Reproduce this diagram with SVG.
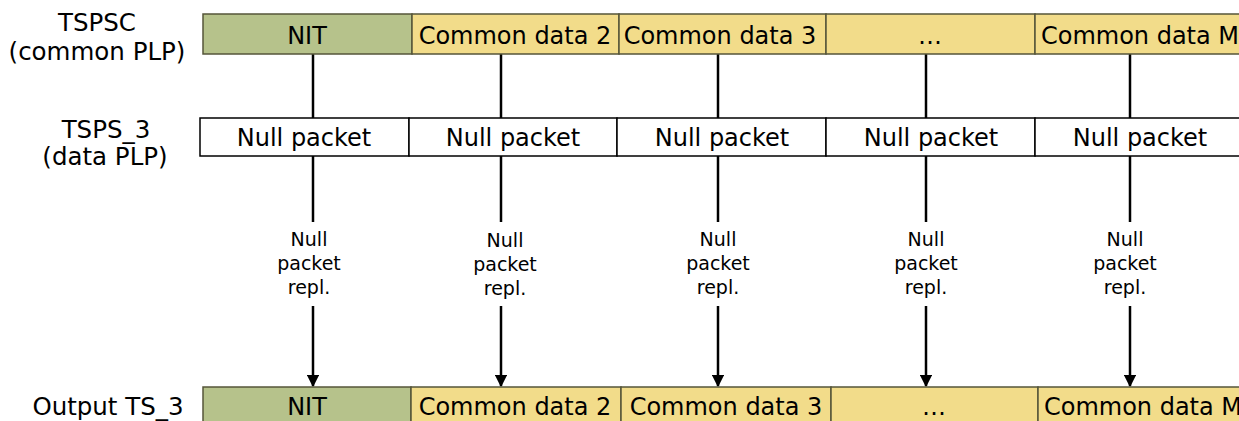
<svg xmlns="http://www.w3.org/2000/svg" width="1239" height="421" viewBox="0 0 1239 421">
<defs>
<style>
text{font-family:"DejaVu Sans","Liberation Sans",sans-serif;fill:#000;text-anchor:middle}
.big{font-size:24px}
.lab{font-size:24.5px}
.sm{font-size:19px}
.g{fill:#B6C28B;stroke:#55553a;stroke-width:1.5}
.y{fill:#F2DC8A;stroke:#55553a;stroke-width:1.5}
.w{fill:#fff;stroke:#000;stroke-width:1.5}
.ln{stroke:#000;stroke-width:2.5;fill:none}
</style>
<marker id="ah" viewBox="0 0 10 10" refX="9" refY="5" markerWidth="5" markerHeight="5" markerUnits="strokeWidth" orient="auto">
<path d="M0,0 L10,5 L0,10 z" fill="#000"/>
</marker>
</defs>
<rect width="1239" height="421" fill="#fff"/>
<g id="labels">
<text class="lab" x="97" y="31">TSPSC</text>
<text class="lab" x="97" y="60">(common PLP)</text>
<text class="lab" x="106" y="138">TSPS_3</text>
<text class="lab" x="105" y="165">(data PLP)</text>
<text class="lab" x="108" y="415">Output TS_3</text>
</g>
<g id="connectors">
<line class="ln" x1="313" y1="54" x2="313" y2="118"/>
<line class="ln" x1="501" y1="54" x2="501" y2="118"/>
<line class="ln" x1="718" y1="54" x2="718" y2="118"/>
<line class="ln" x1="926" y1="54" x2="926" y2="118"/>
<line class="ln" x1="1130" y1="54" x2="1130" y2="118"/>
<line class="ln" x1="313" y1="156" x2="313" y2="222"/>
<line class="ln" x1="501" y1="156" x2="501" y2="222"/>
<line class="ln" x1="718" y1="156" x2="718" y2="222"/>
<line class="ln" x1="926" y1="156" x2="926" y2="222"/>
<line class="ln" x1="1130" y1="156" x2="1130" y2="222"/>
<line class="ln" x1="313" y1="306" x2="313" y2="386" marker-end="url(#ah)"/>
<line class="ln" x1="501" y1="306" x2="501" y2="386" marker-end="url(#ah)"/>
<line class="ln" x1="718" y1="306" x2="718" y2="386" marker-end="url(#ah)"/>
<line class="ln" x1="926" y1="306" x2="926" y2="386" marker-end="url(#ah)"/>
<line class="ln" x1="1130" y1="306" x2="1130" y2="386" marker-end="url(#ah)"/>
</g>
<g id="repl-labels">
<g id="repl1"><text class="sm" x="309" y="246">Null</text><text class="sm" x="309" y="270">packet</text><text class="sm" x="309" y="294">repl.</text></g>
<g id="repl2"><text class="sm" x="505" y="247">Null</text><text class="sm" x="505" y="271">packet</text><text class="sm" x="505" y="295">repl.</text></g>
<g id="repl3"><text class="sm" x="718" y="246">Null</text><text class="sm" x="718" y="270">packet</text><text class="sm" x="718" y="294">repl.</text></g>
<g id="repl4"><text class="sm" x="926" y="246">Null</text><text class="sm" x="926" y="270">packet</text><text class="sm" x="926" y="294">repl.</text></g>
<g id="repl5"><text class="sm" x="1125" y="246">Null</text><text class="sm" x="1125" y="270">packet</text><text class="sm" x="1125" y="294">repl.</text></g>
</g>
<g id="tspsc">
<g id="t1"><rect class="g" x="203" y="14" width="209" height="40"/><text class="big" x="307" y="44">NIT</text></g>
<g id="t2"><rect class="y" x="412" y="14" width="207" height="40"/><text class="big" x="515" y="44">Common data 2</text></g>
<g id="t3"><rect class="y" x="619" y="14" width="207" height="40"/><text class="big" x="720" y="44">Common data 3</text></g>
<g id="t4"><rect class="y" x="826" y="14" width="209" height="40"/><text class="big" x="930" y="44">…</text></g>
<g id="t5"><rect class="y" x="1035" y="14" width="210" height="40"/><text class="big" x="1140" y="44">Common data M</text></g>
</g>
<g id="tsps3">
<g id="n1"><rect class="w" x="200" y="118" width="209" height="38"/><text class="big" x="304" y="146">Null packet</text></g>
<g id="n2"><rect class="w" x="409" y="118" width="208" height="38"/><text class="big" x="513" y="146">Null packet</text></g>
<g id="n3"><rect class="w" x="617" y="118" width="209" height="38"/><text class="big" x="722" y="146">Null packet</text></g>
<g id="n4"><rect class="w" x="826" y="118" width="209" height="38"/><text class="big" x="931" y="146">Null packet</text></g>
<g id="n5"><rect class="w" x="1035" y="118" width="210" height="38"/><text class="big" x="1140" y="146">Null packet</text></g>
</g>
<g id="output">
<g id="o1"><rect class="g" x="203" y="387" width="208" height="40"/><text class="big" x="307" y="415">NIT</text></g>
<g id="o2"><rect class="y" x="411" y="387" width="210" height="40"/><text class="big" x="515" y="415">Common data 2</text></g>
<g id="o3"><rect class="y" x="621" y="387" width="210" height="40"/><text class="big" x="726" y="415">Common data 3</text></g>
<g id="o4"><rect class="y" x="831" y="387" width="207" height="40"/><text class="big" x="934" y="415">…</text></g>
<g id="o5"><rect class="y" x="1038" y="387" width="210" height="40"/><text class="big" x="1143" y="415">Common data M</text></g>
</g>
</svg>
